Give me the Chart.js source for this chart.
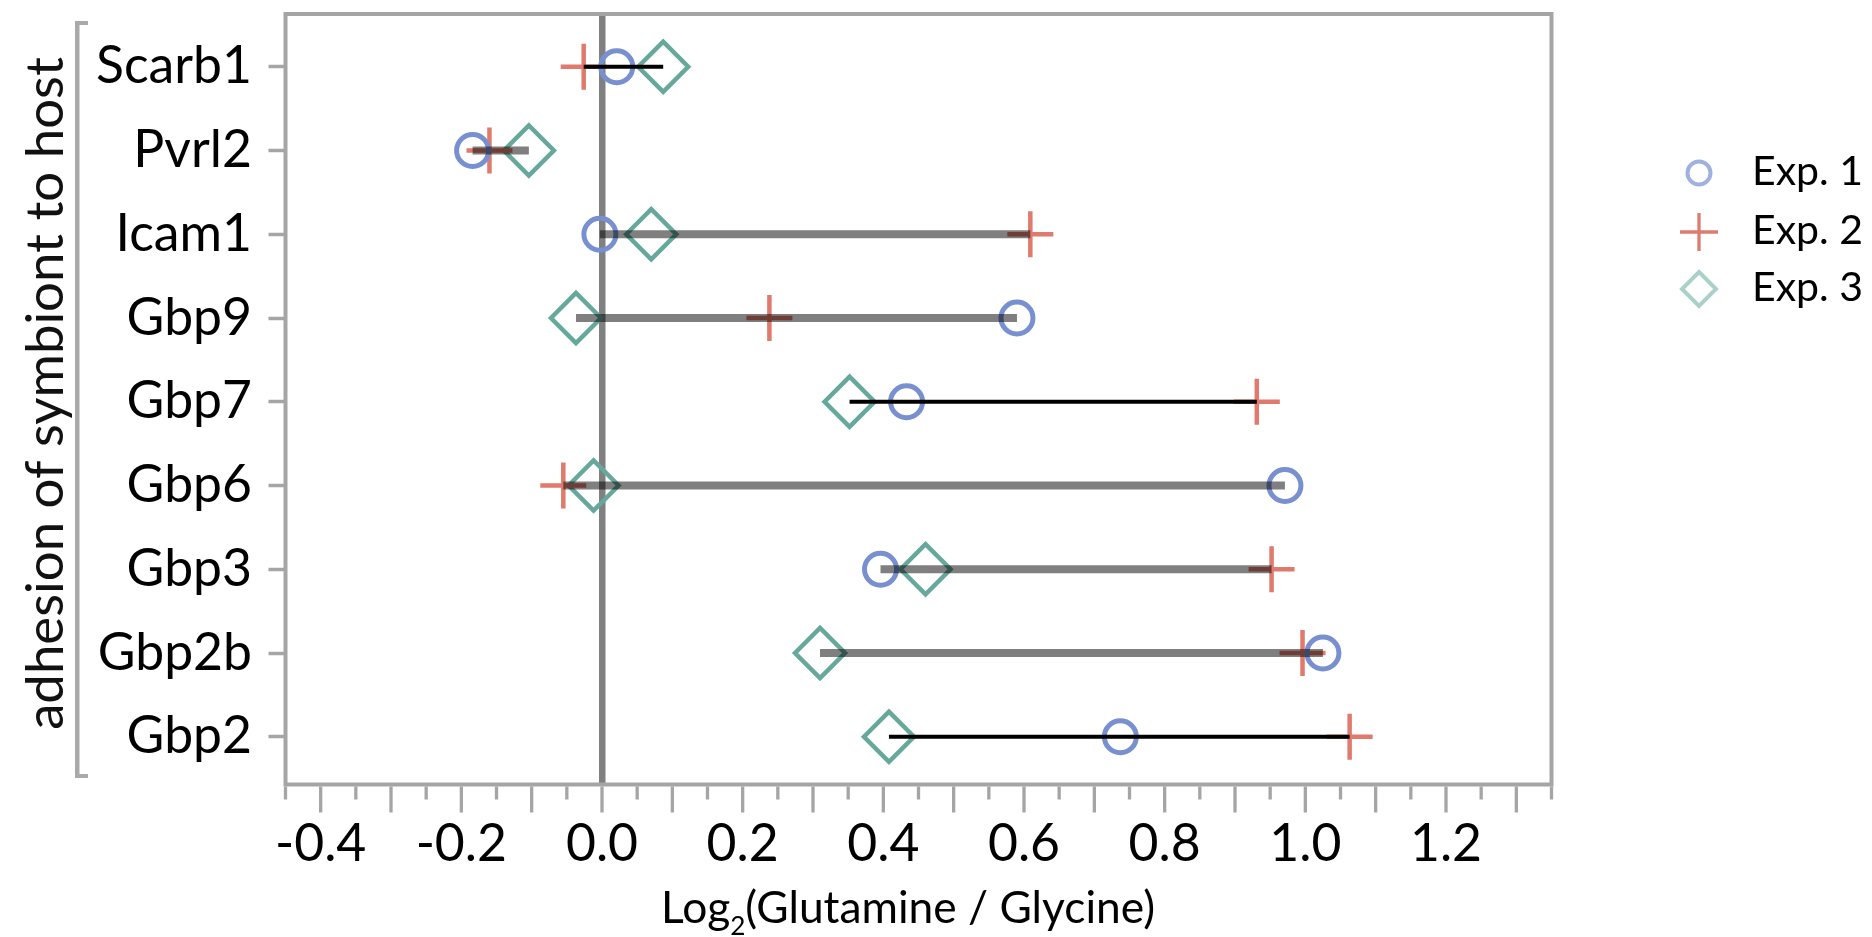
<!DOCTYPE html>
<html>
<head>
<meta charset="utf-8">
<script src="https://cdn.jsdelivr.net/npm/chart.js@4/dist/chart.umd.min.js"></script>
<style>
  html, body { margin: 0; padding: 0; background: #fff; }
  #wrap { width: 1872px; height: 937px; position: relative; }
</style>
</head>
<body>
<div id="wrap"><canvas id="chart"></canvas></div>
<script>
// genes, top to bottom
const genes = ['Scarb1', 'Pvrl2', 'Icam1', 'Gbp9', 'Gbp7', 'Gbp6', 'Gbp3', 'Gbp2b', 'Gbp2'];
// log2(Glutamine / Glycine) per experiment
const exp1 = [0.021, -0.184, -0.003, 0.590, 0.433, 0.971, 0.396, 1.025, 0.737];
const exp2 = [-0.026, -0.160, 0.609, 0.238, 0.931, -0.055, 0.952, 0.996, 1.063];
const exp3 = [0.087, -0.104, 0.070, -0.037, 0.352, -0.012, 0.460, 0.310, 0.408];
// rows whose range bar is drawn in black
const blackRange = [true, false, false, false, true, false, false, false, true];
const seriesNames = ['Exp. 1', 'Exp. 2', 'Exp. 3'];
const xTickLabels = [-0.4, -0.2, 0, 0.2, 0.4, 0.6, 0.8, 1.0, 1.2];
const yTitle = 'adhesion of symbiont to host';
const xTitleParts = ['Log', '2', '(Glutamine / Glycine)'];

const FONT = 'Lato, "Open Sans", sans-serif';
const FRAME = '#a5a5a5';

const markers = [
  { style: 'circle', color: '#7890d0', legend: '#9fb1df', r: 16, w: 5, lr: 11.5, lw: 4 },
  { style: 'cross', color: '#e07a6c', legend: '#dd7b6f', r: 23, w: 4.5, lr: 19, lw: 3.3 },
  { style: 'rectRot', color: '#66a89c', legend: '#a9d1ca', r: 25, w: 4.5, lr: 17, lw: 4 },
];

// pick a font size so that a string spans the wanted width
const measureCtx = document.createElement('canvas').getContext('2d');
function fitSize(text, width, base) {
  measureCtx.font = base + 'px ' + FONT;
  return base * width / measureCtx.measureText(text).width;
}
const tickSize = fitSize('Scarb1', 156, 53);
const yTitleSize = fitSize(yTitle, 673, 51);
const legendSize = fitSize('Exp. 1', 111, 42);
const xTitleSize = fitSize(xTitleParts[0] + xTitleParts[2], 493 - 14, 44);

Chart.defaults.font.family = FONT;

const seriesData = [exp1, exp2, exp3];

const datasets = [];
seriesData.forEach((vals, s) => {
  const m = markers[s];
  datasets.push({
    label: seriesNames[s],
    data: genes.map((g, i) => ({ x: vals[i], y: i })),
    pointStyle: m.style,
    pointRadius: m.r,
    pointBorderWidth: m.w,
    pointBorderColor: m.color,
    pointBackgroundColor: 'rgba(0,0,0,0)',
    showLine: false,
    order: 1,
  });
});

// min-max range line per gene, drawn over the markers
genes.forEach((g, i) => {
  const vals = seriesData.map((arr) => arr[i]);
  datasets.push({
    label: 'range ' + g,
    data: [{ x: Math.min(...vals), y: i }, { x: Math.max(...vals), y: i }],
    showLine: true,
    pointRadius: 0,
    borderColor: blackRange[i] ? '#000' : 'rgba(0,0,0,0.5)',
    borderWidth: blackRange[i] ? 4 : 8,
    borderCapStyle: 'butt',
    order: 0,
  });
});

function drawMarker(ctx, m, x, y) {
  ctx.save();
  ctx.strokeStyle = m.legend;
  ctx.lineWidth = m.lw;
  ctx.beginPath();
  if (m.style === 'circle') {
    ctx.arc(x, y, m.lr, 0, Math.PI * 2);
  } else if (m.style === 'cross') {
    ctx.moveTo(x - m.lr, y); ctx.lineTo(x + m.lr, y);
    ctx.moveTo(x, y - m.lr); ctx.lineTo(x, y + m.lr);
  } else {
    ctx.moveTo(x, y - m.lr); ctx.lineTo(x + m.lr, y);
    ctx.lineTo(x, y + m.lr); ctx.lineTo(x - m.lr, y); ctx.closePath();
  }
  ctx.stroke();
  ctx.restore();
}

const decor = {
  id: 'decor',
  afterDraw(chart) {
    const { ctx, chartArea: a } = chart;
    const x = chart.scales.x;
    ctx.save();

    // plot frame
    ctx.strokeStyle = FRAME;
    ctx.lineWidth = 4;
    ctx.strokeRect(a.left, a.top, a.right - a.left, a.bottom - a.top);

    // x tick marks: long every 0.1, short every 0.05
    ctx.lineWidth = 3.3;
    const n = Math.round((x.max - x.min) / 0.05);
    for (let k = 0; k <= n; k++) {
      const px = x.getPixelForValue(x.min + k * 0.05);
      const len = k % 2 ? 26 : 13;
      ctx.beginPath();
      ctx.moveTo(px, a.bottom + 2);
      ctx.lineTo(px, a.bottom + 2 + len);
      ctx.stroke();
    }

    // group bracket on the left
    ctx.fillStyle = '#a9a9a9';
    ctx.fillRect(75, 21, 4.5, 757);
    ctx.fillRect(75, 21, 13, 4);
    ctx.fillRect(75, 774, 13, 4);

    // y title
    ctx.save();
    ctx.translate(63, 393.5);
    ctx.rotate(-Math.PI / 2);
    ctx.fillStyle = '#111';
    ctx.font = yTitleSize + 'px ' + FONT;
    ctx.textAlign = 'center';
    ctx.textBaseline = 'alphabetic';
    ctx.fillText(yTitle, 0, 0);
    ctx.restore();

    // x title with subscript
    const big = xTitleSize + 'px ' + FONT;
    const small = (xTitleSize * 0.59) + 'px ' + FONT;
    ctx.fillStyle = '#000';
    ctx.textBaseline = 'alphabetic';
    ctx.textAlign = 'left';
    ctx.font = big;
    const w0 = ctx.measureText(xTitleParts[0]).width;
    const w2 = ctx.measureText(xTitleParts[2]).width;
    ctx.font = small;
    const w1 = ctx.measureText(xTitleParts[1]).width;
    let tx = 908 - (w0 + w1 + w2) / 2;
    ctx.font = big;
    ctx.fillText(xTitleParts[0], tx, 923);
    tx += w0;
    ctx.font = small;
    ctx.fillText(xTitleParts[1], tx, 935);
    tx += w1;
    ctx.font = big;
    ctx.fillText(xTitleParts[2], tx, 923);

    // legend
    const rows = [173, 232, 289];
    ctx.font = legendSize + 'px ' + FONT;
    seriesNames.forEach((name, s) => {
      drawMarker(ctx, markers[s], 1699, rows[s]);
      ctx.fillStyle = '#000';
      ctx.fillText(name, 1752, rows[s] + 12);
    });

    ctx.restore();
  },
};

new Chart(document.getElementById('chart'), {
  type: 'scatter',
  data: { datasets },
  options: {
    responsive: true,
    maintainAspectRatio: false,
    animation: false,
    events: [],
    layout: { autoPadding: false, padding: { left: 0, top: 14, right: 320.5, bottom: 0 } },
    plugins: {
      legend: { display: false },
      tooltip: { enabled: false },
    },
    scales: {
      x: {
        type: 'linear',
        position: 'bottom',
        min: -0.45,
        max: 1.35,
        afterBuildTicks: (axis) => { axis.ticks = xTickLabels.map((v) => ({ value: v })); },
        afterFit: (axis) => {
          axis.height = 152.5;
          axis.paddingLeft = 0;
          axis.paddingRight = 0;
        },
        ticks: {
          color: '#000',
          font: { size: tickSize },
          padding: 29,
          maxRotation: 0,
          autoSkip: false,
          callback: (v) => Number(v).toFixed(1),
        },
        grid: {
          drawTicks: false,
          lineWidth: 6.5,
          color: (c) => (c.tick && c.tick.value === 0 ? '#808080' : 'rgba(0,0,0,0)'),
        },
        border: { display: false },
      },
      y: {
        type: 'linear',
        reverse: true,
        min: -0.63,
        max: 8.57,
        afterBuildTicks: (axis) => { axis.ticks = genes.map((g, i) => ({ value: i })); },
        afterFit: (axis) => {
          axis.width = 285.5;
          axis.paddingTop = 0;
          axis.paddingBottom = 0;
        },
        ticks: {
          color: '#000',
          font: { size: tickSize },
          padding: 16.5,
          autoSkip: false,
          callback: (v) => genes[v],
        },
        grid: {
          drawOnChartArea: false,
          drawTicks: true,
          tickLength: 17,
          tickWidth: 3.5,
          tickColor: FRAME,
        },
        border: { display: false },
      },
    },
  },
  plugins: [decor],
});
</script>
</body>
</html>
